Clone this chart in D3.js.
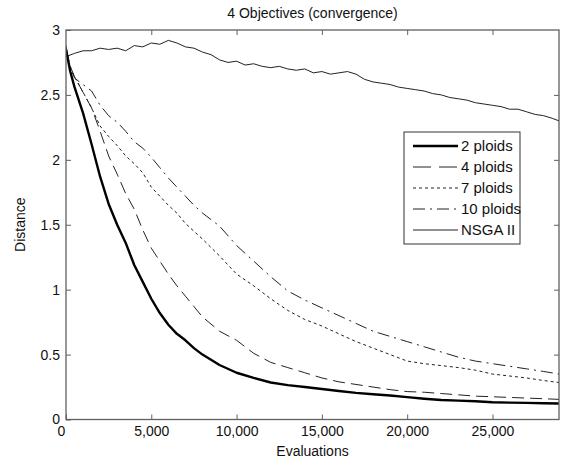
<!DOCTYPE html>
<html>
<head>
<meta charset="utf-8">
<script src="https://cdn.jsdelivr.net/npm/d3@7"></script>
<style>
  body { margin: 0; background: #fff; }
  svg text { font-family: "Liberation Sans", Arial, sans-serif; fill: #111; }
</style>
</head>
<body>
<div id="chart"></div>
<script>
// shared evaluation grid for the ploid runs
var evals = [0, 250, 500, 1000, 1500, 2000, 2500, 3000, 3500, 4000, 4500, 5000, 5500, 6000, 6500, 7000, 7500, 8000,
  9000, 10000, 11000, 12000, 13000, 14000, 15000, 16000, 17000, 18000, 19000, 20000, 21000, 22000, 23000, 24000,
  25000, 26000, 27000, 28000, 28900];

var ploids2 = [2.85, 2.68, 2.56, 2.36, 2.12, 1.87, 1.66, 1.50, 1.36, 1.19, 1.06, 0.93, 0.82, 0.73, 0.66, 0.61, 0.55, 0.50,
  0.42, 0.36, 0.32, 0.285, 0.265, 0.25, 0.235, 0.22, 0.205, 0.195, 0.185, 0.172, 0.16, 0.15, 0.145, 0.14,
  0.133, 0.13, 0.128, 0.125, 0.123];
var ploids4 = [2.85, 2.72, 2.64, 2.52, 2.40, 2.22, 2.03, 1.89, 1.74, 1.62, 1.46, 1.32, 1.22, 1.12, 1.03, 0.95, 0.87, 0.79,
  0.68, 0.61, 0.51, 0.44, 0.40, 0.36, 0.32, 0.29, 0.27, 0.25, 0.23, 0.215, 0.21, 0.20, 0.19, 0.18,
  0.175, 0.17, 0.165, 0.16, 0.155];
var ploids7 = [2.85, 2.70, 2.64, 2.52, 2.40, 2.26, 2.18, 2.11, 2.03, 1.97, 1.90, 1.79, 1.72, 1.65, 1.59, 1.51, 1.45, 1.39,
  1.26, 1.12, 1.03, 0.93, 0.84, 0.77, 0.72, 0.66, 0.60, 0.55, 0.50, 0.45, 0.43, 0.415, 0.40, 0.38,
  0.35, 0.335, 0.32, 0.30, 0.285];
var ploids10 = [2.85, 2.72, 2.63, 2.58, 2.53, 2.42, 2.34, 2.29, 2.22, 2.14, 2.09, 2.02, 1.94, 1.86, 1.79, 1.72, 1.65, 1.59,
  1.49, 1.34, 1.22, 1.10, 0.99, 0.92, 0.86, 0.80, 0.74, 0.68, 0.64, 0.60, 0.56, 0.52, 0.48, 0.45,
  0.43, 0.41, 0.39, 0.37, 0.35];

// NSGA II has its own, denser sampling (noisy line)
var nsgaEvals = [0, 100, 500, 1000, 1500, 2000, 2500, 3000, 3500, 4000, 4500, 5000, 5500, 6000, 6500, 7000, 7500, 8000,
  8500, 9000, 9500, 10000, 10500, 11000, 11500, 12000, 12500, 13000, 13500, 14000, 14500, 15000, 15500, 16000,
  16500, 17000, 17500, 18000, 18500, 19000, 19500, 20000, 20500, 21000, 21500, 22000, 22500, 23000, 23500,
  24000, 24500, 25000, 25500, 26000, 26500, 27000, 27500, 28000, 28500, 28900];
var nsga = [2.88, 2.80, 2.82, 2.84, 2.84, 2.86, 2.85, 2.86, 2.84, 2.88, 2.87, 2.90, 2.89, 2.92, 2.90, 2.87, 2.86, 2.83,
  2.81, 2.77, 2.75, 2.76, 2.73, 2.74, 2.72, 2.71, 2.72, 2.70, 2.69, 2.70, 2.67, 2.68, 2.66, 2.67,
  2.68, 2.66, 2.62, 2.60, 2.59, 2.58, 2.56, 2.55, 2.54, 2.53, 2.51, 2.50, 2.48, 2.47, 2.46,
  2.44, 2.43, 2.42, 2.41, 2.39, 2.39, 2.37, 2.35, 2.34, 2.32, 2.30];

var seriesNames = ["2 ploids", "4 ploids", "7 ploids", "10 ploids", "NSGA II"];
var xTicks = [0, 5000, 10000, 15000, 20000, 25000];
var yTicks = [0, 0.5, 1, 1.5, 2, 2.5, 3];

var width = 564, height = 466;
var margin = { top: 30, right: 5, bottom: 46.5, left: 66 };
var plotW = width - margin.left - margin.right;
var plotH = height - margin.top - margin.bottom;

var svg = d3.select("#chart").append("svg")
  .attr("width", width)
  .attr("height", height);

var x = d3.scaleLinear().domain([0, 28900]).range([0, plotW]);
var y = d3.scaleLinear().domain([0, 3]).range([plotH, 0]);

var g = svg.append("g").attr("transform", "translate(" + margin.left + "," + margin.top + ")");

//line styles, same order as seriesNames
var styles = [
  { width: 2.4, dash: null, color: "#000" },
  { width: 1, dash: "12,6", color: "#222" },
  { width: 1, dash: "3,3", color: "#222" },
  { width: 1, dash: "12,5,2,5", color: "#222" },
  { width: 1, dash: null, color: "#222" }
];

var series = [
  { xs: evals, ys: ploids2 },
  { xs: evals, ys: ploids4 },
  { xs: evals, ys: ploids7 },
  { xs: evals, ys: ploids10 },
  { xs: nsgaEvals, ys: nsga }
];

var line = d3.line()
  .x(function (d) { return x(d[0]); })
  .y(function (d) { return y(d[1]); });

g.append("clipPath").attr("id", "clip")
  .append("rect").attr("width", plotW).attr("height", plotH);

// draw NSGA first so the thick line sits on top
var order = [4, 3, 2, 1, 0];
order.forEach(function (i) {
  var pts = series[i].xs.map(function (v, k) { return [v, series[i].ys[k]]; });
  g.append("path")
    .datum(pts)
    .attr("clip-path", "url(#clip)")
    .attr("fill", "none")
    .attr("stroke", styles[i].color)
    .attr("stroke-width", styles[i].width)
    .attr("stroke-dasharray", styles[i].dash)
    .attr("stroke-linejoin", "round")
    .attr("d", line);
});

// axes, ticks inward on all four sides (matlab box)
var axisColor = "#606060";
var xFmt = d3.format(",");

var xAxis = g.append("g").attr("transform", "translate(0," + plotH + ")")
  .call(d3.axisBottom(x).tickValues(xTicks).tickSize(-5).tickPadding(6).tickFormat(xFmt));
var xTop = g.append("g")
  .call(d3.axisTop(x).tickValues(xTicks.slice(1)).tickSize(-5).tickFormat(""));
var yAxis = g.append("g")
  .call(d3.axisLeft(y).tickValues(yTicks).tickSize(-5).tickPadding(6).tickFormat(function (d) { return d; }));
var yRight = g.append("g").attr("transform", "translate(" + plotW + ",0)")
  .call(d3.axisRight(y).tickValues(yTicks.slice(1, -1)).tickSize(-5).tickFormat(""));

[xAxis, xTop, yAxis, yRight].forEach(function (a) {
  a.select(".domain").remove();
  a.selectAll(".tick line").attr("stroke", axisColor);
  a.selectAll("text").style("font-size", "14px").attr("fill", "#111");
});
xAxis.selectAll("text").attr("dy", "0.72em");
// the zero label sits a little left of its tick, like matlab does
xAxis.selectAll(".tick text").filter(function (d) { return d === 0; }).attr("dx", -5);

g.append("rect")
  .attr("width", plotW)
  .attr("height", plotH)
  .attr("fill", "none")
  .attr("stroke", axisColor)
  .attr("stroke-width", 1.3);

// title and axis labels
svg.append("text")
  .attr("x", margin.left + plotW / 2)
  .attr("y", 18)
  .attr("text-anchor", "middle")
  .style("font-size", "14px")
  .text("4 Objectives (convergence)");

svg.append("text")
  .attr("x", margin.left + plotW / 2)
  .attr("y", 456)
  .attr("text-anchor", "middle")
  .style("font-size", "14px")
  .text("Evaluations");

svg.append("text")
  .attr("transform", "translate(25," + (margin.top + plotH / 2) + ") rotate(-90)")
  .attr("text-anchor", "middle")
  .style("font-size", "14px")
  .text("Distance");

// legend
var legend = svg.append("g").attr("transform", "translate(404,132)");
legend.append("rect")
  .attr("width", 116)
  .attr("height", 112)
  .attr("fill", "#fff")
  .attr("stroke", "#333")
  .attr("stroke-width", 1);

seriesNames.forEach(function (name, i) {
  var ly = 14 + i * 21;
  legend.append("line")
    .attr("x1", 9).attr("x2", 54)
    .attr("y1", ly).attr("y2", ly)
    .attr("stroke", styles[i].color)
    .attr("stroke-width", styles[i].width)
    .attr("stroke-dasharray", i == 1 ? "18,8" : styles[i].dash);
  legend.append("text")
    .attr("x", 57)
    .attr("y", ly + 5)
    .style("font-size", "15px")
    .text(name);
});
</script>
</body>
</html>
